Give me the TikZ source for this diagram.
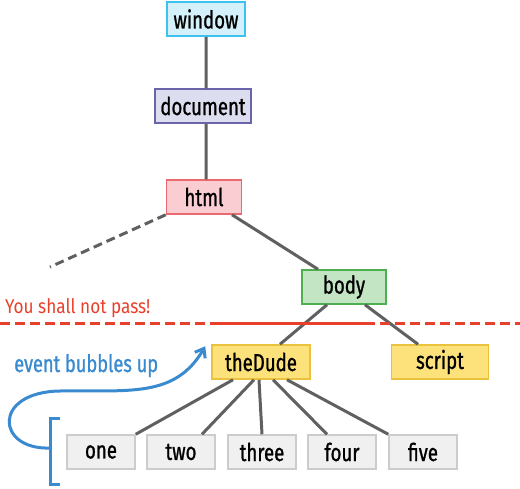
\documentclass[tikz,border=0pt]{standalone}
\usepackage{fontspec}
\setmainfont{Fira Sans}[FakeStretch=0.86]
\newfontfamily\tagfont{Fira Sans}[FakeStretch=0.76,FakeBold=1]
\usetikzlibrary{arrows.meta}

\definecolor{linegray}{HTML}{606060}
\definecolor{passred}{HTML}{E8402A}
\definecolor{bubbleblue}{HTML}{3A8AD0}
\definecolor{winfill}{HTML}{D4F0FA}  \definecolor{windraw}{HTML}{3EC1EC}
\definecolor{docfill}{HTML}{DDDDF0}  \definecolor{docdraw}{HTML}{6A64A8}
\definecolor{htmlfill}{HTML}{F9CDD1} \definecolor{htmldraw}{HTML}{EC6A6E}
\definecolor{bodyfill}{HTML}{C3E5C3} \definecolor{bodydraw}{HTML}{4CAF50}
\definecolor{elfill}{HTML}{FDE27C}   \definecolor{eldraw}{HTML}{EAC33E}
\definecolor{leaffill}{HTML}{F0F0F0} \definecolor{leafdraw}{HTML}{CCCCCC}

\begin{document}
\begin{tikzpicture}[x=1pt,y=-1pt,
    tag/.style={draw,line width=1.5pt,minimum height=34pt,inner sep=2pt,font=\tagfont\fontsize{24.5}{26}\selectfont},
    leaf/.style={tag,draw=leafdraw,fill=leaffill,minimum width=68pt},
    link/.style={draw=linegray,line width=3pt}]
  \useasboundingbox (0,0) rectangle (520,488);
  \node[tag,draw=windraw,fill=winfill,minimum width=78pt] (window) at (206,19) {window};
  \node[tag,draw=docdraw,fill=docfill,minimum width=96pt] (document) at (203,106) {document};
  \node[tag,draw=htmldraw,fill=htmlfill,minimum width=75pt] (html) at (204,197) {html};
  \node[tag,draw=bodydraw,fill=bodyfill,minimum width=84pt] (body) at (344,287) {body};
  \node[tag,draw=eldraw,fill=elfill,minimum width=98pt] (dude) at (261,362) {theDude};
  \node[tag,draw=eldraw,fill=elfill,minimum width=97pt] (script) at (440,362) {script};
  \node[leaf] (one) at (101,452) {one};
  \node[leaf] (two) at (181,452) {two};
  \node[leaf] (three) at (262,452) {three};
  \node[leaf] (four) at (342,452) {four};
  \node[leaf] (five) at (423,452) {five};
  \coordinate (rest) at (50,267);

  \path[link]
    (window.south) -- (window.south |- document.north)
    (window.south |- document.south) -- (window.south |- html.north)
    ([xshift=28pt]html.south) -- ([xshift=-26pt]body.north)
    ([xshift=-17pt]body.south) -- ([xshift=19pt]dude.north)
    ([xshift=21pt]body.south) -- ([xshift=-22pt]script.north)
    ([xshift=-28pt]dude.south) -- (one.north east)
    ([xshift=-7pt]dude.south) -- ([xshift=21pt]two.north)
    ([xshift=-2pt]dude.south) -- (three.north)
    ([xshift=12pt]dude.south) -- ([xshift=-15pt]four.north)
    ([xshift=26pt]dude.south) -- (five.north west);
  \draw[link,dash pattern=on 9pt off 5pt] (html.south west) -- (rest);

  % the line
  \node[anchor=west,text=passred,font=\fontsize{20}{22}\selectfont,inner sep=0pt] (pass) at (5,308) {You shall not pass!};
  \coordinate (cutA) at (0,323);
  \coordinate (cutB) at (220,323);
  \coordinate (cutC) at (365,323);
  \coordinate (cutD) at (520,323);
  \draw[passred,line width=3pt,dash pattern=on 10pt off 5pt] (cutA) -- (cutB);
  \draw[passred,line width=3pt] (cutB) -- (cutC);
  \draw[passred,line width=3pt,dash pattern=on 10pt off 5pt] (cutC) -- (cutD);

  % bubbling
  \node[anchor=base west,text=bubbleblue,font=\tagfont\fontsize{24}{26}\selectfont,inner sep=0pt] (bubble) at (14,372) {event bubbles up};
  \coordinate (brtop) at (60,418);
  \coordinate (brbot) at (60,484);
  \draw[bubbleblue,line width=3pt] (brtop) -| (50,484) -- (brbot);
  \draw[bubbleblue,line width=3pt,-{Straight Barb[length=8pt,width=12pt]}]
    (50,448) .. controls (-4,450) and (-8,392) .. (60,391)
    .. controls (130,390) and (175,398) .. ([xshift=-6pt,yshift=-2pt]dude.north west);
\end{tikzpicture}
\end{document}
